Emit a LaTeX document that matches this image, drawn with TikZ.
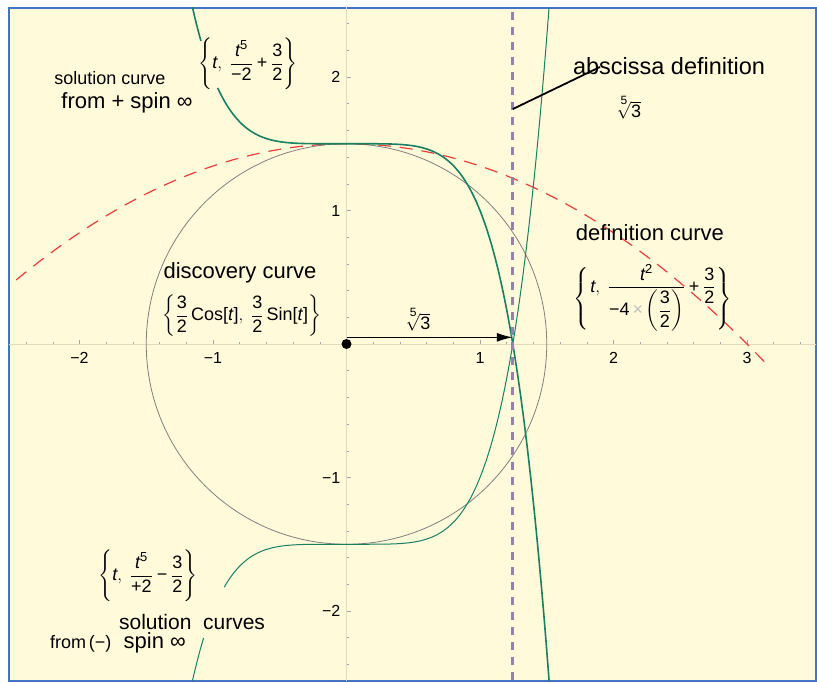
\documentclass[tikz,border=0pt]{standalone}
\usepackage{amsmath}
\usepackage{fontspec}
\setmainfont{Liberation Sans}
\usetikzlibrary{arrows.meta}

\definecolor{paper}{RGB}{255,250,217}
\definecolor{frameblue}{RGB}{68,114,196}
\definecolor{solgreen}{RGB}{25,128,98}
\definecolor{defred}{RGB}{232,62,62}
\definecolor{rootgray}{RGB}{150,130,168}
\definecolor{axistan}{RGB}{228,218,188}

\newcommand{\fs}[1]{\fontsize{#1}{#1}\selectfont}
\newcommand{\sv}[1]{\text{#1}}
\newcommand{\ti}{\text{\itshape t}}
\newcommand{\pw}[1]{^{\text{\fs{13}#1}}}
\newcommand{\rootfive}{$\sqrt[\leftroot{-1}\uproot{4}\text{\fs{12}5}]{\sv{3}}$}

\begin{document}
\begin{tikzpicture}[x=133.5pt, y=133.5pt, >=latex,
  lbl/.style={inner sep=1pt, font=\fs{22}},
  formula/.style={inner sep=1pt, font=\fs{18}},
  ticklbl/.style={font=\fs{16}},
  solone/.style={solgreen, line width=1.6pt},
  soltwo/.style={solgreen, line width=1pt},
  rootline/.style={rootgray, line width=3.2pt, dash pattern=on 8pt off 7pt}]

  \pgfmathsetmacro{\xroot}{3^(1/5)}

  % page and frame
  \useasboundingbox (-2.5955,-2.5318) rectangle (3.5243,2.5768);
  \fill[white] (-2.5955,-2.5318) rectangle (3.5243,2.5768);
  \draw[frameblue, line width=2pt, fill=paper] (-2.528,-2.524) rectangle (3.517,2.517);

  \begin{scope}
    \clip (-2.528,-2.524) rectangle (3.517,2.517);

    % axes with minor and major ticks
    \draw[axistan, line width=0.8pt] (-2.6,0) -- (3.6,0);
    \draw[axistan, line width=0.8pt] (0,-2.6) -- (0,2.6);
    \foreach \k in {-12,...,17}{
      \draw[gray!70, line width=0.5pt] (\k/5,0) -- (\k/5,0.018);
    }
    \foreach \k in {-12,...,12}{
      \draw[gray!70, line width=0.5pt] (0,\k/5) -- (0.018,\k/5);
    }
    \foreach \k in {-2,...,3}{
      \draw[gray!70, line width=0.6pt] (\k,0) -- (\k,0.03);
    }
    \foreach \k in {-2,...,2}{
      \draw[gray!70, line width=0.6pt] (0,\k) -- (0.03,\k);
    }

    % discovery curve
    \draw[gray, line width=0.8pt] (0,0) circle (1.5);

    % definition curve
    \draw[defred, line width=1.2pt, dash pattern=on 13pt off 9pt]
      plot[domain=-2.6:3.15, samples=80] (\x, {1.5-\x*\x/6});

    % solution curves, with gaps left for the labels
    \draw[solone] plot[domain=-1.16:-1.09, samples=10] (\x, {1.5-\x*\x*\x*\x*\x/2});
    \draw[solone] plot[domain=-0.965:1.52, samples=200] (\x, {1.5-\x*\x*\x*\x*\x/2});
    \draw[soltwo] plot[domain=-1.16:-1.07, samples=10] (\x, {\x*\x*\x*\x*\x/2-1.5});
    \draw[soltwo] plot[domain=-0.915:1.52, samples=200] (\x, {\x*\x*\x*\x*\x/2-1.5});

    % the abscissa x = 3^(1/5)
    \draw[rootline] (\xroot,2.6) -- (\xroot,-2.6);
  \end{scope}

  % tick labels
  \foreach \k/\t in {-2/−2,-1/−1,1/1,2/2,3/3}{
    \node[ticklbl, anchor=north] (xl\k) at (\k,-0.035) {\t};
  }
  \foreach \k/\t in {-2/−2,-1/−1,1/1,2/2}{
    \node[ticklbl, anchor=east] (yl\k) at (-0.02,\k) {\t};
  }

  % origin and the arrow to the root
  \node[circle, fill=black, inner sep=0pt, minimum size=10pt] (O) at (0,0) {};
  \coordinate (arrfrom) at (0,0.05);
  \coordinate (arrto) at (\xroot,0.05);
  \draw[-{Latex[length=16pt, width=9pt]}, line width=1.6pt] (arrfrom) -- (arrto);
  \node[formula] (arrowroot) at (0.53,0.18) {\rootfive};

  % abscissa definition
  \node[lbl, font=\fs{23.5}] (abslbl) at (2.416,2.082) {abscissa definition};
  \node[formula] (absroot) at (2.109,1.768) {\rootfive};
  \coordinate (absfoot) at (\xroot,1.76);
  \coordinate (abstip) at (1.899,2.075);
  \draw[line width=1.8pt] (absfoot) -- (abstip);

  % upper solution curve
  \node[lbl, font=\fs{18}] (sollbl) at (-1.772,1.993) {solution curve};
  \node[lbl] (solfrom) at (-1.644,1.805) {from + spin ∞};
  \node[formula] (solform) at (-0.738,2.097)
    {$\left\{\ti,\ \dfrac{\ti\pw{5}}{\sv{−2}}\mathbin{\sv{+}}\dfrac{\sv{3}}{\sv{2}}\right\}$};

  % discovery curve
  \node[lbl] (discolbl) at (-0.798,0.532) {discovery curve};
  \node[formula] (discoform) at (-0.783,0.210)
    {$\left\{\dfrac{\sv{3}}{\sv{2}}\,\sv{Cos[\textit{t}]},\ \dfrac{\sv{3}}{\sv{2}}\,\sv{Sin[\textit{t}]}\right\}$};

  % definition curve, braces lowered to wrap the deep denominator
  \node[lbl] (deflbl) at (2.273,0.831) {definition curve};
  \node[formula] (defform) at (2.296,0.345)
    {\raisebox{-11pt}{$\left\{\rule[-27pt]{0pt}{54pt}\right.$}$\ti,\ \dfrac{\ti\pw{2}}{\sv{−4}\,\textcolor{gray!50}{\sv{×}}\left(\dfrac{\sv{3}}{\sv{2}}\right)}\mathbin{\sv{+}}\dfrac{\sv{3}}{\sv{2}}$\raisebox{-11pt}{$\left.\rule[-27pt]{0pt}{54pt}\right\}$}};

  % lower solution curves
  \node[formula] (lowform) at (-1.487,-1.738)
    {$\left\{\ti,\ \dfrac{\ti\pw{5}}{\sv{+2}}\mathbin{\sv{−}}\dfrac{\sv{3}}{\sv{2}}\right\}$};
  \node[lbl, font=\fs{21}] (lowlbl) at (-1.157,-2.082) {solution\ \ curves};
  \node[lbl] (lowfrom) at (-1.712,-2.240) {{\fs{18}from\,(−)}\ \ spin ∞};

\end{tikzpicture}
\end{document}
